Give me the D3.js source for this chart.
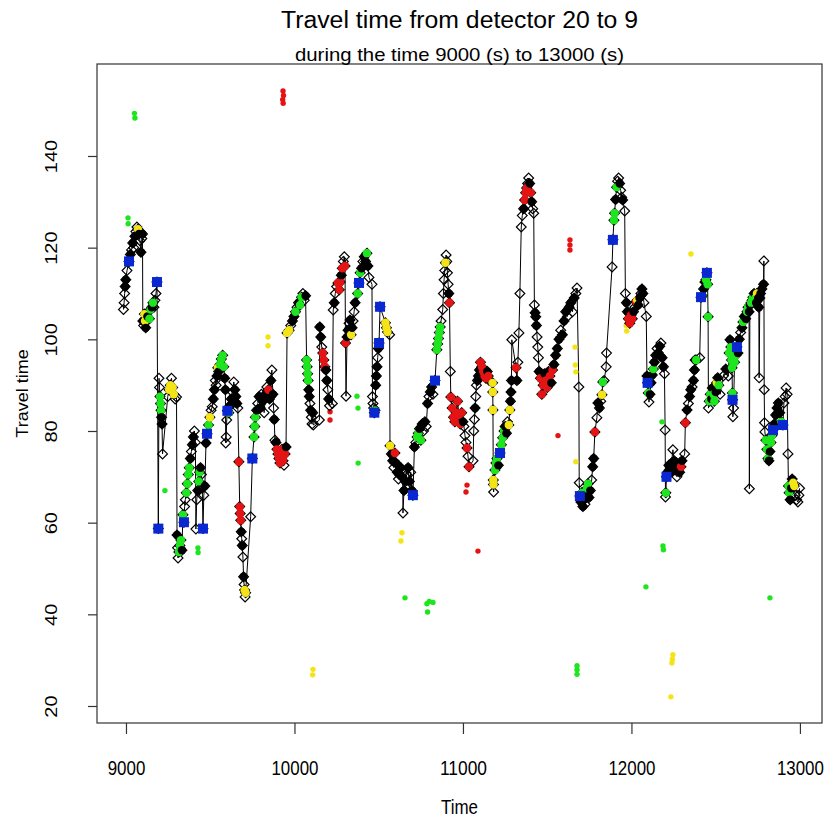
<!DOCTYPE html>
<html>
<head>
<meta charset="utf-8">
<script src="https://cdn.jsdelivr.net/npm/d3@7"></script>
<style>
  body { margin: 0; background: #fff; }
  text { font-family: "Liberation Sans", Arial, sans-serif; fill: #000; }
</style>
</head>
<body>
<svg id="chart" width="832" height="821"></svg>
<script>
// ---- data: [time (s), travel time, marker class] ----
// o = open diamond only, k/r/y/g = filled circle colour, b = blue square
const xTicks = [9000, 10000, 11000, 12000, 13000];
const yTicks = [20, 40, 60, 80, 100, 120, 140];

const trace9000 = [
  [8985,106.5,'o'],[8989,108,'o'],[8992,110,'o'],[8995,111.5,'k'],[8999,113,'k'],[9006,115,'o'],[9018,117,'b'],[9026,118.5,'k'],[9033,119.5,'o'],[9040,121,'k'],[9046,120,'o'],[9053,122.5,'k'],[9059,123.5,'o'],[9065,124.5,'o'],[9071,124,'y'],[9077,123,'k'],[9083,121.5,'o'],[9089,119,'k'],[9094,122,'o'],[9098,123,'k'],
  [9100,104,'k'],[9105,103,'o'],[9109,105.5,'y'],[9113,104,'y'],[9117,102.5,'k'],[9122,104,'o'],[9127,105,'k'],[9133,106,'o'],[9139,104.5,'g'],[9146,106.5,'g'],[9153,107,'k'],[9160,108,'g'],[9166,107,'o'],[9172,108.5,'o'],[9178,110,'o'],[9184,112.5,'b'],
  [9192,58.7,'b'],[9196,91.5,'o'],[9199,89.5,'o'],[9202,87.5,'g'],[9205,86,'g'],[9208,84.5,'g'],[9211,83,'k'],[9214,81.5,'k'],[9217,75,'o'],
  [9248,87.5,'o'],[9256,89,'y'],[9263,90,'y'],[9270,91.5,'o'],[9277,89.5,'y'],[9284,88,'y'],[9292,87,'o'],[9300,87.4,'o'],
  [9303,57.3,'k'],[9306,54.5,'o'],[9309,52.3,'o'],[9314,53.6,'g'],[9320,55,'g'],[9326,56.2,'g'],[9332,54,'k'],[9338,61.7,'g'],[9344,60.1,'b'],[9348,63.5,'o'],[9352,65,'o'],
  [9358,66.5,'g'],[9364,68.5,'g'],[9370,70.5,'g'],[9376,72,'g'],[9382,74,'k'],[9388,75.5,'o'],[9394,77,'k'],[9400,78.7,'k'],[9406,80,'o'],[9412,77.5,'o'],[9415,58.6,'o'],[9420,65,'o'],[9426,67,'k'],[9432,69,'g'],[9437,71,'g'],[9442,72,'k'],[9448,70.5,'o'],[9453,67.5,'o'],[9457,58.7,'b'],[9462,66,'o'],[9468,68,'k'],
  [9475,77.4,'k'],[9481,79.4,'b'],[9490,81.3,'g'],[9498,83,'y'],[9505,84.5,'o'],[9512,85.3,'o'],[9518,87,'k'],[9525,89,'k'],[9530,91,'o'],[9535,90,'o'],[9540,92,'k'],[9545,93.8,'y'],[9550,93,'k'],[9558,94.5,'g'],[9566,95.7,'g'],[9574,96.5,'g'],[9580,94,'g'],[9586,91.5,'k'],[9590,89,'k'],[9592,77.4,'o'],[9595,78.7,'o'],[9598,82.4,'o'],[9602,84.4,'b'],[9610,84,'g'],[9617,85.5,'k'],[9625,87,'k'],[9632,88.5,'o'],
  [9640,90.7,'o'],[9646,89,'k'],[9652,87.5,'k'],[9658,86,'k'],[9664,85,'o'],[9670,73.3,'r'],[9675,63.5,'r'],[9678,62,'r'],[9681,60.5,'r'],[9684,58,'k'],[9687,56.5,'o'],[9690,55,'k'],[9694,52.5,'o'],[9698,48.2,'k'],[9701,46.5,'o'],[9704,45.3,'y'],[9707,43.8,'o'],[9710,44.7,'y'],
  [9740,61.3,'o'],[9750,74,'b'],[9760,78.7,'g'],[9764,81,'g'],[9768,83,'g'],[9775,84.5,'k'],[9782,86,'o'],[9790,87.5,'k'],[9797,85,'k'],[9804,88,'o'],[9812,86.5,'k'],[9820,84,'o'],[9828,88,'k'],[9836,89.6,'o'],[9845,89,'r'],[9852,87,'k'],
  [9860,91,'k'],[9866,93.3,'o'],[9872,88,'k'],[9876,85,'o'],[9880,82.5,'k'],[9884,78,'o'],[9890,77.5,'k'],[9896,76,'r'],[9902,75,'r'],[9908,74,'r'],[9914,73,'r'],[9920,74.5,'r'],[9926,76,'r'],[9932,73.5,'r'],[9938,72.5,'o'],[9944,75,'r'],[9950,76.5,'k'],
  [9956,101.4,'y'],[9968,102,'y'],[9978,103,'o'],[9988,104,'k'],[9997,105,'k']
];

const trace10000 = [
  [10006,106,'g'],[10015,107,'o'],[10024,108,'k'],[10033,107.5,'g'],[10042,109.2,'g'],[10050,110,'o'],[10058,108.5,'o'],[10066,109.5,'k'],
  [10072,95.5,'g'],[10075,94,'g'],[10078,92.5,'g'],[10081,91,'g'],[10085,89,'k'],[10088,87.5,'k'],[10092,86,'o'],[10096,84.5,'k'],[10100,83,'o'],[10104,81.5,'o'],[10108,84,'k'],[10112,81.3,'o'],
  [10148,82.4,'o'],[10150,102.7,'k'],[10156,100.5,'k'],[10162,98.3,'o'],[10168,97,'r'],[10174,95.5,'r'],[10180,94,'r'],[10186,93.3,'k'],[10192,91,'k'],[10198,89,'o'],[10203,87,'k'],[10208,85.5,'o'],[10225,86,'o'],
  [10230,106.4,'o'],[10236,108,'k'],[10242,110,'o'],[10250,111.5,'o'],[10258,112.3,'r'],[10266,110.8,'r'],[10272,112.5,'r'],[10278,114,'k'],[10284,115.5,'r'],[10290,117,'o'],[10296,118,'o'],[10300,116,'r'],[10303,99.2,'r'],[10306,87.6,'o'],
  [10312,100.5,'k'],[10318,102,'k'],[10324,103.5,'o'],[10330,104.2,'k'],[10336,101,'y'],[10342,102.5,'k'],[10348,104,'o'],[10354,106,'o'],[10360,108,'k'],[10375,110,'g'],[10383,112.3,'b'],[10390,114.5,'g'],[10398,115.5,'k'],[10406,117,'o'],[10414,118,'k'],[10422,117,'k'],[10430,118.8,'g'],[10436,116,'k'],[10442,113.5,'o'],
  [10460,112,'o'],[10463,87.5,'o'],[10466,86,'o'],[10470,85,'o'],[10474,84,'b'],[10478,84.5,'g'],[10482,90,'k'],[10486,92,'k'],[10490,94,'k'],[10494,96,'o'],[10498,98,'k'],[10502,99.2,'b'],[10508,107.1,'b'],
  [10540,103.6,'y'],[10546,102.5,'y'],[10552,101.6,'y'],[10565,101,'o'],[10567,76.8,'y'],
  [10575,75,'k'],[10583,73.5,'k'],[10590,72,'o'],[10596,75.2,'r'],[10603,73,'k'],[10610,71,'k'],[10617,69.5,'o'],[10624,70.5,'k'],[10630,72,'k'],[10637,70,'k'],[10642,71,'o'],[10644,62.1,'o'],[10650,67,'k'],[10658,69,'k'],[10666,70.5,'o'],[10674,72,'k'],[10682,69,'k'],[10690,71,'o'],[10697,67,'k'],[10703,66,'b'],
  [10712,76.5,'k'],[10720,77.5,'o'],[10728,78.7,'g'],[10735,79.5,'g'],[10742,80.5,'k'],[10750,78,'g'],[10758,81.5,'k'],[10766,80,'o'],[10774,82,'k'],[10782,81,'o'],[10790,86,'k'],[10798,87.5,'o'],[10806,88.5,'k'],[10814,89.6,'k'],[10822,88,'o'],[10834,91,'b'],
  [10845,97.7,'g'],[10850,99,'g'],[10855,100.2,'g'],[10860,101.5,'g'],[10865,102.7,'g'],[10870,104,'o'],[10880,106.5,'o'],[10884,110,'o'],[10888,113,'o'],[10892,115,'o'],[10896,116.7,'y'],[10900,118.4,'o'],[10904,117,'o'],[10908,114.5,'o'],[10912,112,'o'],[10916,110,'k'],[10920,108,'r'],
  [10925,93,'o'],[10928,87.4,'r'],[10936,85,'r'],[10944,83,'r'],[10952,82,'r'],[10960,84,'r'],[10968,86.5,'r'],[10976,83.5,'r'],[10984,81.5,'r'],[10992,84,'r']
];

const trace11000 = [
  [11000,82,'k'],[11006,81,'o'],[11012,79,'o'],[11018,77.5,'o'],[11024,76.3,'r'],[11030,74.5,'o'],[11036,72.2,'r'],
  [11060,73.5,'o'],[11064,80,'o'],[11068,82.5,'o'],[11072,85,'k'],[11076,87.5,'o'],[11080,90,'o'],[11086,91,'k'],[11092,92,'k'],[11098,93.3,'k'],[11104,95,'r'],[11112,94,'r'],[11120,93,'r'],[11128,92,'r'],[11136,91.5,'r'],[11144,93,'k'],[11150,92,'r'],[11156,91,'o'],
  [11176,90.5,'y'],[11177,88.5,'y'],[11178,84.6,'y'],[11180,69.3,'y'],[11181,68.3,'y'],[11182,66.7,'o'],
  [11190,71.5,'g'],[11196,73,'g'],[11202,74,'g'],[11210,72.5,'k'],[11220,75.2,'b'],[11228,77,'g'],[11236,78.5,'g'],[11244,80,'g'],[11250,81,'k'],[11258,79.5,'k'],[11264,82,'o'],[11272,81.3,'y'],[11278,84.6,'y'],[11282,86.5,'k'],[11285,88.5,'k'],[11288,91,'k'],[11290,99.9,'o'],
  [11315,93.8,'r'],[11320,91,'k'],[11326,95,'o'],[11332,101.4,'o'],[11338,110,'o'],[11346,124.5,'o'],[11352,127,'o'],[11360,128.5,'k'],[11366,130.4,'r'],[11372,132,'r'],[11378,133,'r'],[11384,134,'o'],[11390,135.2,'o'],[11396,134,'k'],[11402,132,'r'],[11408,130,'k'],[11414,128.5,'o'],[11420,127.5,'o'],
  [11424,107.5,'o'],[11428,105.8,'k'],[11432,104.9,'k'],[11436,103,'k'],[11440,100.5,'o'],[11444,98.3,'o'],[11448,96,'o'],[11452,93,'k'],[11460,91.5,'r'],[11468,88,'r'],[11476,90,'r'],[11484,92.5,'k'],[11492,91,'r'],[11500,89.5,'r'],[11508,93,'k'],[11516,92,'r'],[11524,90.5,'k'],[11532,93.3,'r'],[11540,94.5,'k'],[11550,96.5,'k'],
  [11560,98,'k'],[11570,100,'k'],[11580,102,'o'],[11590,101,'k'],[11600,104,'k'],[11610,106,'k'],[11620,105,'o'],[11630,107,'k'],[11640,108,'k'],[11650,106,'o'],[11660,109,'k'],[11670,110,'o'],[11677,111.2,'o'],[11688,89.6,'o'],[11690,68.7,'o'],
  [11694,65.8,'b'],[11700,64.5,'k'],[11706,66.5,'g'],[11712,63.5,'k'],[11718,65,'k'],[11724,64,'o'],[11730,66,'k'],[11736,67.5,'g'],[11742,68.5,'g'],[11748,65.5,'k'],[11756,67,'k'],[11764,69.3,'o'],[11770,72.2,'k'],[11776,74,'k'],[11783,79.8,'r'],[11795,82.9,'o'],[11801,86.1,'k'],[11810,85,'k'],[11818,86.5,'o'],[11825,87.9,'y'],[11830,90.7,'g'],[11838,91,'o'],
  [11850,94,'o'],[11852,97,'o'],[11885,115.8,'o'],[11890,121.7,'b'],[11896,126,'g'],[11900,127.5,'g'],[11906,130.5,'k'],[11912,133.2,'g'],[11918,134.5,'o'],[11924,135.2,'o'],[11930,134,'k'],[11936,132.5,'o'],[11942,131,'o'],[11948,130.4,'k'],[11960,128,'o'],[11964,110,'o'],[11970,108,'k'],[11976,106,'k'],[11982,104.5,'r'],[11990,103.5,'r'],[11998,105.3,'r']
];

const trace12000 = [
  [12005,104.5,'r'],[12012,106,'k'],[12020,107,'o'],[12028,108.2,'r'],[12034,108.5,'y'],[12040,107.5,'k'],[12048,109,'k'],[12056,110,'o'],[12062,111,'k'],[12068,110,'k'],[12074,108,'o'],[12088,105,'o'],[12092,92,'k'],[12096,90.5,'b'],[12100,88.3,'g'],[12104,86.3,'o'],[12110,88,'k'],[12116,90.5,'k'],[12124,92.2,'k'],[12130,93.5,'g'],[12136,95,'k'],[12144,96.5,'k'],[12152,98,'o'],[12160,97,'k'],[12168,98.5,'k'],[12175,99.2,'o'],[12182,96,'k'],[12190,94,'k'],[12196,92.5,'o'],
  [12200,80.2,'o'],[12202,65.6,'o'],[12204,66.5,'g'],[12208,70,'b'],[12214,71,'k'],[12222,72.5,'k'],[12230,71,'k'],[12238,73,'k'],[12246,75.9,'o'],[12254,73.5,'k'],[12262,71.5,'k'],[12270,70,'o'],[12278,72,'k'],[12286,71,'k'],[12294,72.2,'r'],[12300,73.5,'k'],[12316,75,'o'],[12320,81.8,'r'],[12330,84.6,'k'],[12338,86,'o'],[12345,87.5,'k'],[12352,89,'k'],[12360,89.6,'o'],[12368,91,'k'],[12374,93.3,'k'],[12378,95.5,'k'],[12384,95.5,'g'],[12405,96,'o'],[12413,109.2,'b'],[12420,109.5,'g'],[12428,111,'k'],[12436,112.5,'k'],[12442,113,'g'],[12448,114.5,'b'],[12452,112,'g'],[12455,104.9,'g'],[12457,85,'o'],
  [12462,86.5,'g'],[12468,88,'g'],[12474,87,'k'],[12480,89.4,'k'],[12486,88,'g'],[12492,86.5,'g'],[12500,88.5,'k'],[12506,90.5,'y'],[12512,91.6,'k'],[12518,90,'g'],[12526,88,'o'],[12545,92,'o'],[12560,93.5,'k'],[12575,92,'o'],
  [12580,97,'g'],[12585,99.9,'k'],[12590,98.3,'g'],[12594,95.5,'g'],[12597,93.8,'g'],[12599,88.3,'g'],[12600,86.8,'b'],[12602,83.1,'o'],[12606,85,'o'],[12612,95,'g'],[12620,96.5,'g'],[12626,98.3,'b'],[12632,97,'k'],[12640,100,'k'],[12648,101.5,'o'],[12656,102.5,'k'],[12662,103.8,'g'],[12670,105,'k'],[12678,104.5,'k'],[12686,106,'g'],[12692,107,'g'],[12698,106,'k'],[12700,67.4,'o'],[12703,107.5,'k'],[12710,108,'g'],[12716,108.5,'g'],[12721,109.2,'g'],[12728,110,'k'],[12735,109,'g'],[12740,108,'k'],[12745,110,'y'],[12752,109,'k'],[12756,107,'k'],[12758,91.6,'o'],[12762,109,'k'],[12766,110,'k'],[12774,111,'k'],[12784,112,'k'],[12786,117.1,'o'],[12788,89,'o'],[12790,81.8,'o'],[12792,79.8,'o'],
  [12798,78,'g'],[12804,76,'g'],[12810,74,'g'],[12816,73.5,'k'],[12822,75.5,'k'],[12828,77.5,'g'],[12834,79,'g'],[12840,80.2,'b'],[12848,81.5,'k'],[12856,83.5,'k'],[12864,85,'k'],[12872,86.1,'k'],[12880,84,'k'],[12890,82,'g'],[12899,81.3,'b'],[12905,86.1,'o'],[12912,87.5,'o'],[12918,89.4,'o'],[12924,88,'o'],[12929,75,'o'],[12932,68,'g'],[12936,66.5,'g'],[12942,65,'k'],[12948,67.5,'k'],[12954,69.5,'k'],[12960,68.7,'y'],[12966,68,'y'],[12972,66,'o'],[12980,65,'o'],[12988,64.5,'o'],[12994,66,'o'],[12998,67.5,'o']
];

// stray detections, not on the line
const greenDots = [[9050,149.3],[9053,148.3],[9012,126.5],[9013,125.2],[9231,67],[9427,54.5],[9428,53.5],[10371,87.6],[10377,85],[10378,73],[10656,43.6],[10786,42.3],[10800,42.8],[10822,42.6],[10790,40.5],[11677,28.8],[11677,27.9],[11677,26.9],[12086,46],[12181,82],[12187,54.9],[12190,54.1],[12822,43.6]];
const redDots = [[9932,154.2],[9935,153.2],[9930,152.3],[9933,151.5],[10211,84.2],[10211,82.4],[11024,68.2],[11018,66.7],[11089,53.8],[11564,79],[11635,121.7],[11635,120.6],[11635,119.5]];
const yellowDots = [[9843,100.5],[9843,98.6],[10110,28],[10108,26.8],[10638,57.8],[10632,56],[11665,98.3],[11667,94.4],[11670,92.9],[11670,73.3],[11968,103],[11972,101.8],[12353,118.6],[12246,31.2],[12243,30.2],[12240,29.4],[12234,22]];

const colors = { k: "#000000", r: "#e51414", y: "#f4e416", g: "#1ee61e", b: "#0a28d2" };

// ---- layout ----
const svg = d3.select("#chart");
const plotLeft = 97, plotRight = 822, plotTop = 64, plotBottom = 723;

const x = d3.scaleLinear().domain([8828, 13131]).range([plotLeft, plotRight]);
const y = d3.scaleLinear().domain([16.29, 160.07]).range([plotBottom, plotTop]);

const trace = [].concat(trace9000, trace10000, trace11000, trace12000);

const plot = svg.append("g");

// connecting line
plot.append("path")
  .datum(trace)
  .attr("d", d3.line().x(d => x(d[0])).y(d => y(d[1])))
  .attr("fill", "none")
  .attr("stroke", "#000")
  .attr("stroke-width", 1);

// stray dots
const dots = [].concat(
  greenDots.map(d => [d[0], d[1], "g"]),
  redDots.map(d => [d[0], d[1], "r"]),
  yellowDots.map(d => [d[0], d[1], "y"])
);
plot.append("g").selectAll("circle")
  .data(dots)
  .join("circle")
  .attr("cx", d => x(d[0]))
  .attr("cy", d => y(d[1]))
  .attr("r", 2.7)
  .attr("fill", d => colors[d[2]]);

// open diamonds on every line point
const dsz = 4.9;
plot.append("g").selectAll("path")
  .data(trace)
  .join("path")
  .attr("transform", d => `translate(${x(d[0])},${y(d[1])})`)
  .attr("d", `M0,${-dsz}L${dsz},0L0,${dsz}L${-dsz},0Z`)
  .attr("fill", "none")
  .attr("stroke", "#000")
  .attr("stroke-width", 1.2);

// filled circles
plot.append("g").selectAll("circle")
  .data(trace.filter(d => "krgy".includes(d[2])))
  .join("circle")
  .attr("cx", d => x(d[0]))
  .attr("cy", d => y(d[1]))
  .attr("r", 4.2)
  .attr("fill", d => colors[d[2]]);

// blue squares
plot.append("g").selectAll("rect")
  .data(trace.filter(d => d[2] === "b"))
  .join("rect")
  .attr("x", d => x(d[0]) - 5)
  .attr("y", d => y(d[1]) - 5)
  .attr("width", 10)
  .attr("height", 10)
  .attr("fill", colors.b);

// frame
svg.append("rect")
  .attr("x", plotLeft).attr("y", plotTop)
  .attr("width", plotRight - plotLeft).attr("height", plotBottom - plotTop)
  .attr("fill", "none").attr("stroke", "#333").attr("stroke-width", 1.2);

// x axis
const xAxis = svg.append("g")
  .attr("transform", `translate(0,${plotBottom})`)
  .call(d3.axisBottom(x).tickValues(xTicks).tickSize(11).tickPadding(27).tickFormat(d3.format("d")));
xAxis.select(".domain").remove();
xAxis.selectAll("line").attr("stroke", "#333").attr("stroke-width", 1.2);
xAxis.selectAll("text")
  .attr("font-size", 20)
  .attr("textLength", d => String(d).length * 9.4)
  .attr("lengthAdjust", "spacingAndGlyphs");

// y axis, labels turned like R's default
const yAxis = svg.append("g")
  .attr("transform", `translate(${plotLeft},0)`)
  .call(d3.axisLeft(y).tickValues(yTicks).tickSize(9).tickFormat(d3.format("d")));
yAxis.select(".domain").remove();
yAxis.selectAll("line").attr("stroke", "#333").attr("stroke-width", 1.2);
yAxis.selectAll("text")
  .attr("x", 0).attr("dy", 0)
  .attr("text-anchor", "middle")
  .attr("font-size", 20)
  .attr("transform", "translate(-40,0) scale(0.8,1) rotate(-90)");

// titles
svg.append("text")
  .attr("x", (plotLeft + plotRight) / 2).attr("y", 28)
  .attr("text-anchor", "middle")
  .attr("font-size", 23)
  .attr("textLength", 357).attr("lengthAdjust", "spacingAndGlyphs")
  .text("Travel time from detector 20 to 9");

svg.append("text")
  .attr("x", (plotLeft + plotRight) / 2).attr("y", 61)
  .attr("text-anchor", "middle")
  .attr("font-size", 19)
  .attr("textLength", 329).attr("lengthAdjust", "spacingAndGlyphs")
  .text("during the time 9000 (s) to 13000 (s)");

svg.append("text")
  .attr("x", (plotLeft + plotRight) / 2).attr("y", 814)
  .attr("text-anchor", "middle")
  .attr("font-size", 21)
  .attr("textLength", 37).attr("lengthAdjust", "spacingAndGlyphs")
  .text("Time");

svg.append("text")
  .attr("transform", `translate(28,${(plotTop + plotBottom) / 2}) scale(0.95,1) rotate(-90)`)
  .attr("text-anchor", "middle")
  .attr("font-size", 18)
  .text("Travel time");
</script>
</body>
</html>
